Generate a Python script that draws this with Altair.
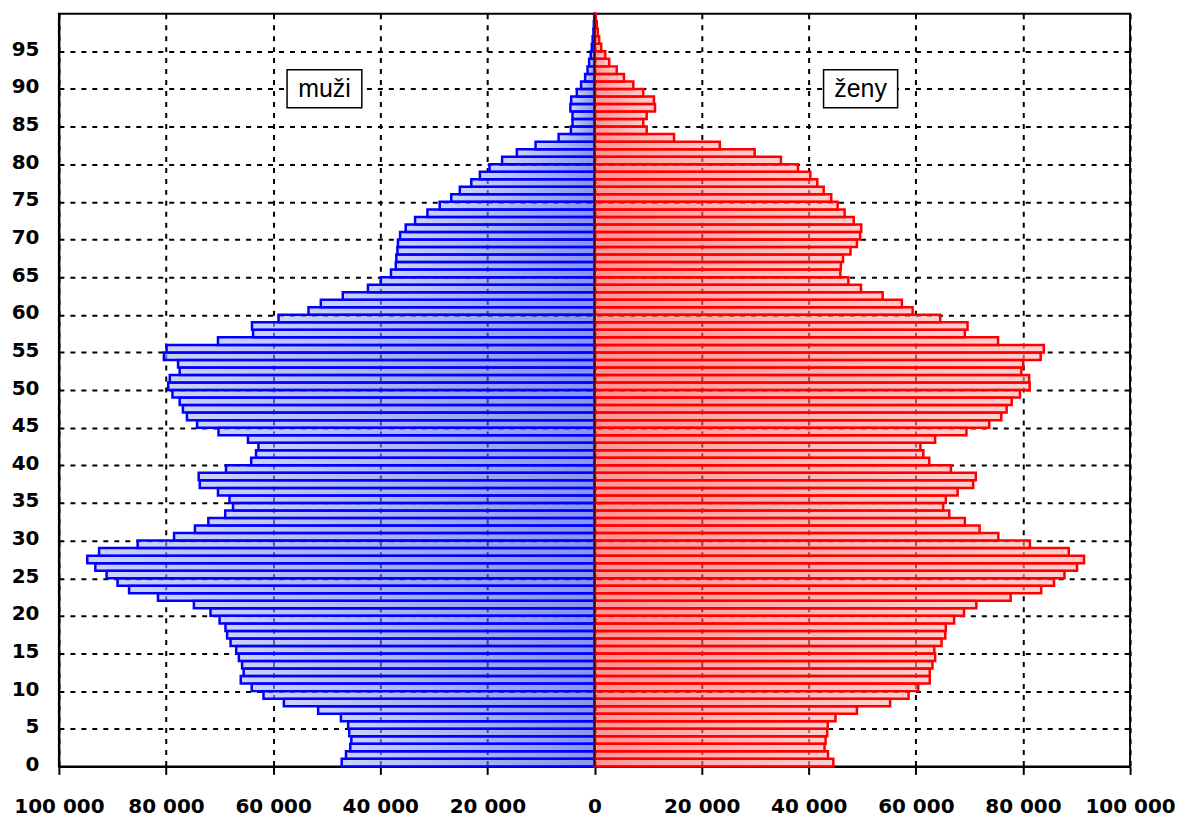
import altair as alt
import pandas as pd

ages = list(range(100))
male = [47200, 46400, 45600, 45400, 45800, 46000, 47350, 51600, 58000, 61800,
        64000, 66050, 65500, 65800, 66400, 66900, 67950, 68600, 68900, 70000,
        71700, 74800, 81500, 86900, 89050, 91100, 93200, 94700, 92500, 85300,
        78500, 74600, 72100, 68950, 67500, 68150, 70300, 73700, 73900, 68800,
        64100, 63200, 62750, 64700, 70200, 74200, 76100, 76850, 77450, 78800,
        79600, 79300, 77450, 77750, 80400, 79900, 70300, 63750, 63950, 59000,
        53400, 51100, 47000, 42300, 39900, 38000, 37100, 37000, 36800, 36700,
        36300, 35250, 33500, 31200, 28900, 26750, 25150, 23000, 21400, 19600,
        17250, 14500, 11000, 6700, 4400, 4100, 4100, 4500, 4350, 3300,
        2500, 1750, 1300, 1000, 700, 500, 350, 200, 120, 60]
female = [44600, 43600, 42950, 43150, 43450, 43550, 45000, 49000, 55200, 58650,
          60450, 62600, 62600, 63100, 63600, 63450, 64800, 65500, 65600, 67150,
          69000, 71300, 77700, 83400, 85800, 87750, 90100, 91400, 88550, 81300,
          75400, 71900, 69150, 66250, 65100, 65600, 67800, 70700, 71200, 66550,
          62500, 61400, 60850, 63600, 69450, 73700, 75950, 76950, 77900, 79450,
          81250, 81150, 79700, 80050, 83300, 83900, 75350, 69150, 69650, 64550,
          59400, 57400, 53800, 49750, 47400, 45900, 46000, 46400, 47800, 49000,
          49600, 49800, 48400, 46700, 45400, 44200, 42800, 41600, 40300, 38000,
          34800, 29900, 23400, 14850, 9750, 9100, 9750, 11300, 11100, 9100,
          7250, 5500, 4150, 2750, 2000, 1250, 870, 620, 430, 250]

x_ticks = list(range(-100000, 100001, 20000))
y_ticks = list(range(0, 100, 5))

ann_text = ["muži", "ženy"]
ann_x0 = [-57400, 42770]
ann_x1 = [-43440, 56600]
ann_y0 = [87.5, 87.5]
ann_y1 = [92.55, 92.55]

df = pd.DataFrame({"age": ages, "male": male, "female": female})
df["age_top"] = df["age"] + 1
df["male_neg"] = -df["male"]
df["zero"] = 0

ann = pd.DataFrame({"text": ann_text, "x0": ann_x0, "x1": ann_x1, "y0": ann_y0, "y1": ann_y1})
ann["xc"] = (ann["x0"] + ann["x1"]) / 2
ann["yc"] = (ann["y0"] + ann["y1"]) / 2

xscale = alt.Scale(domain=[-100000, 100000], nice=False, zero=False)
yscale = alt.Scale(domain=[0, 100], nice=False, zero=False)

xaxis = alt.Axis(values=x_ticks, title=None,
                 labelExpr="replace(format(abs(datum.value), ','), ',', ' ')",
                 tickColor="black", tickWidth=2, tickSize=8, labelPadding=22)
yaxis = alt.Axis(values=y_ticks, title=None, ticks=False, labelPadding=20, labelOffset=-2)

blue_grad = alt.LinearGradient(gradient="linear",
                               stops=[alt.GradientStop(offset=0, color="#aab4f5"),
                                      alt.GradientStop(offset=1, color="#3c50e6")],
                               x1=0, x2=1, y1=0, y2=0)
red_grad = alt.LinearGradient(gradient="linear",
                              stops=[alt.GradientStop(offset=0, color="#ff5050"),
                                     alt.GradientStop(offset=1, color="#ffb0b0")],
                              x1=0, x2=1, y1=0, y2=0)

base = alt.Chart(df)
male_bars = base.mark_rect(fill=blue_grad, fillOpacity=0.6, stroke="#0000ff", strokeWidth=2.5).encode(
    x=alt.X("male_neg:Q", scale=xscale, axis=xaxis),
    x2="zero:Q",
    y=alt.Y("age:Q", scale=yscale, axis=yaxis),
    y2="age_top:Q",
)
female_bars = base.mark_rect(fill=red_grad, fillOpacity=0.6, stroke="#ff0000", strokeWidth=2.5).encode(
    x=alt.X("zero:Q", scale=xscale, axis=xaxis),
    x2="female:Q",
    y=alt.Y("age:Q", scale=yscale, axis=yaxis),
    y2="age_top:Q",
)
center = alt.Chart(pd.DataFrame({"x": [0], "y": [0], "y2": [100]})).mark_rule(
    color="#4a0018", strokeWidth=2).encode(
    x=alt.X("x:Q", scale=xscale, axis=xaxis), y=alt.Y("y:Q", scale=yscale, axis=yaxis), y2="y2:Q")

boxes = alt.Chart(ann).mark_rect(fill="white", stroke="black", strokeWidth=1.5).encode(
    x=alt.X("x0:Q", scale=xscale, axis=xaxis), x2="x1:Q",
    y=alt.Y("y0:Q", scale=yscale, axis=yaxis), y2="y1:Q")
texts = alt.Chart(ann).mark_text(font="Liberation Sans", fontSize=25, color="black",
                                 baseline="middle", align="center").encode(
    x=alt.X("xc:Q", scale=xscale, axis=xaxis), y=alt.Y("yc:Q", scale=yscale, axis=yaxis),
    text="text:N")

chart = alt.layer(male_bars, female_bars, center, boxes, texts).properties(
    width=1073, height=754,
    autosize=alt.AutoSizeParams(type="none"),
    padding={"left": 51, "top": 5, "right": 45, "bottom": 52},
).configure_view(stroke="black", strokeWidth=2).configure_axis(
    grid=True, gridDash=[5, 6], gridColor="black", gridWidth=2, gridOpacity=1,
    domainColor="black", domainWidth=2, labelFont="DejaVu Sans",
    labelFontWeight="bold", labelFontSize=20, labelColor="black",
    labelFlush=False, labelOverlap=False, labelBound=False,
)

chart.save("out.html", embed_options={"renderer": "svg", "actions": False})
